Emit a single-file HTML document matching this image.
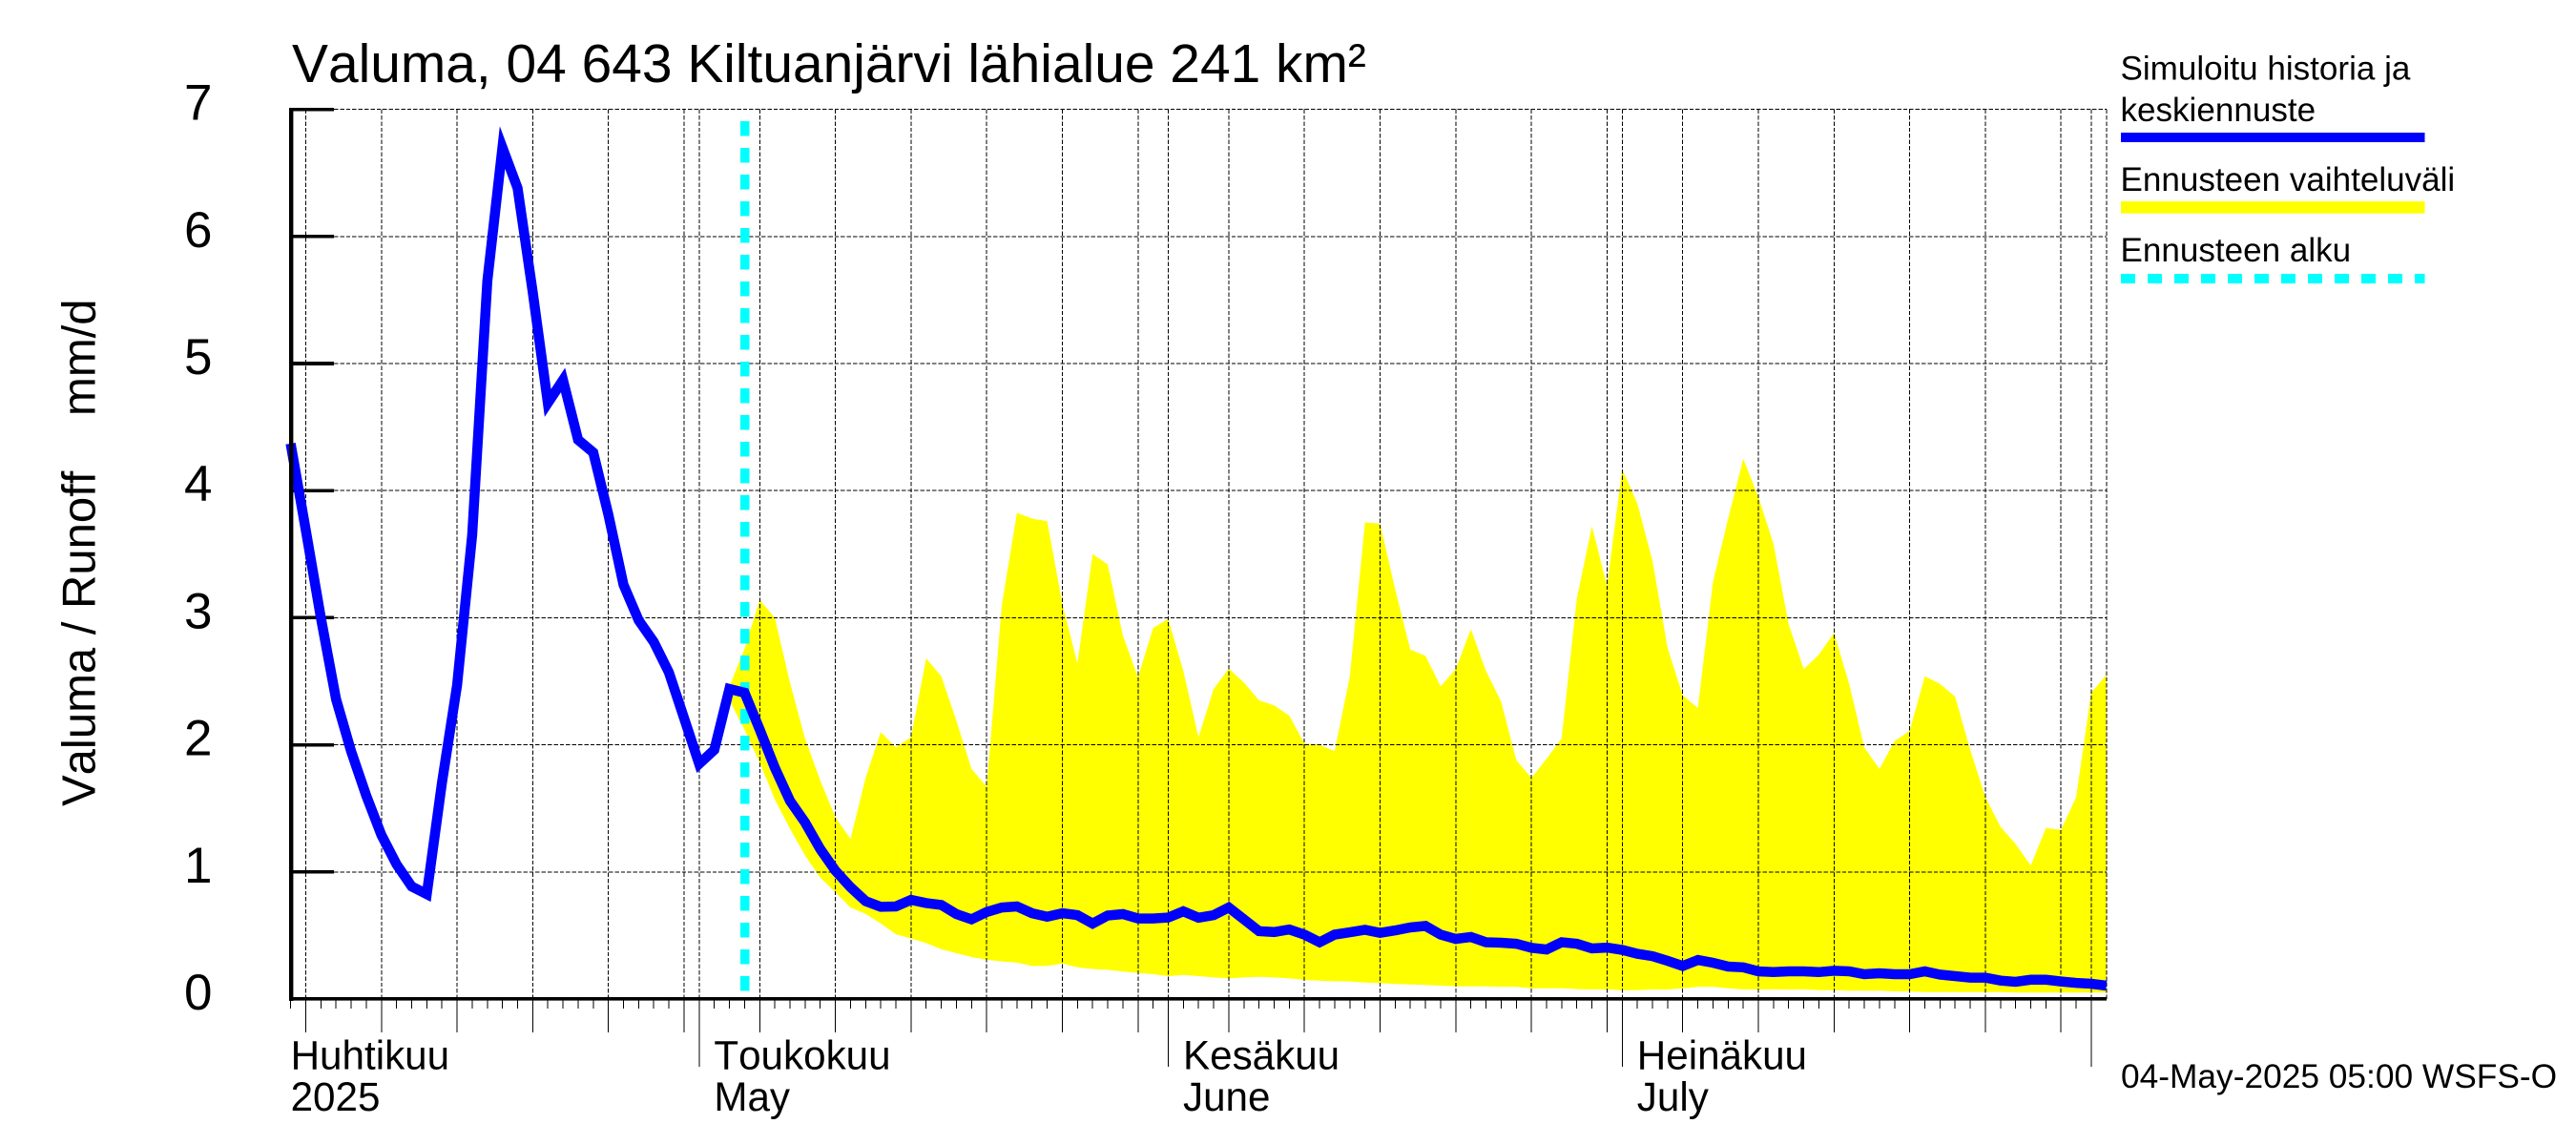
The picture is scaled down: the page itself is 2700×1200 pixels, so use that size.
<!DOCTYPE html>
<html lang="fi">
<head>
<meta charset="utf-8">
<title>Valuma, 04 643 Kiltuanjärvi lähialue</title>
<style>
  html, body { margin: 0; padding: 0; background: #fff; }
  #chart { display: block; width: 2700px; height: 1200px; font-family: "Liberation Sans", Arial, sans-serif; font-kerning: none; }
  text { fill: #000; font-kerning: none; }
</style>
</head>
<body>
<svg id="chart" xmlns="http://www.w3.org/2000/svg" width="2700" height="1200" viewBox="0 0 2700 1200">
  <rect x="0" y="0" width="2700" height="1200" fill="#ffffff"/>
  <polygon id="band" fill="#ffff00"/>
  <g id="grid" stroke="#000" stroke-width="1" stroke-dasharray="4.4 2" shape-rendering="crispEdges"></g>
  <g id="ticks" stroke="#000" shape-rendering="crispEdges"></g>
  <line id="forecastStart" stroke="#00ffff" stroke-width="9.7" stroke-dasharray="15.5 12.5" shape-rendering="crispEdges"/>
  <polyline id="runoffLine" fill="none" stroke="#0000ff" stroke-width="10.5" stroke-linejoin="miter" stroke-miterlimit="6"/>
  <rect x="303" y="113" width="4.4" height="936"/>
  <rect x="303" y="1045" width="1905" height="3.6"/>

  <text x="306" y="86" font-size="56.9">Valuma, 04 643 Kiltuanjärvi lähialue 241 km²</text>
  <text transform="translate(99.5 845) rotate(-90)" font-size="49">Valuma / Runoff</text>
  <text transform="translate(99.5 436) rotate(-90)" font-size="49">mm/d</text>
  <g id="yLabels" font-size="53"></g>
  <g id="xLabels" font-size="42.2"></g>

  <g font-size="35.05">
    <text x="2222.5" y="83.5">Simuloitu historia ja</text>
    <text x="2222.5" y="127">keskiennuste</text>
    <rect x="2223" y="139" width="318.5" height="10" fill="#0000ff"/>
    <text x="2222.5" y="200">Ennusteen vaihteluväli</text>
    <rect x="2223" y="211" width="318.5" height="12.7" fill="#ffff00"/>
    <text x="2222.5" y="274">Ennusteen alku</text>
    <line x1="2223" y1="292" x2="2541.5" y2="292" stroke="#00ffff" stroke-width="9.7" stroke-dasharray="15 13" shape-rendering="crispEdges"/>
  </g>
  <text x="2223" y="1140" font-size="35.3">04-May-2025 05:00 WSFS-O</text>
</svg>

<script>
// Chart data (mm/d, one value per day starting 4 April 2025)
var runoffValues = [
  4.37,3.69,3.00,2.36,1.95,1.60,1.29,1.06,0.885,0.825,1.70,2.47,3.65,5.65,6.70,6.38,5.56,4.69,4.87,4.40,
  4.30,3.81,3.26,2.98,2.81,2.57,2.21,1.85,1.96,2.44,2.41,2.12,1.82,1.56,1.39,1.18,1.01,0.88,0.77,0.725,
  0.728,0.78,0.755,0.74,0.668,0.627,0.685,0.72,0.728,0.675,0.648,0.675,0.66,0.594,0.657,0.668,0.634,0.634,0.641,0.69,
  0.64,0.66,0.72,0.627,0.534,0.527,0.547,0.507,0.447,0.507,0.525,0.544,0.52,0.54,0.563,0.575,0.507,0.473,0.488,0.447,
  0.443,0.435,0.403,0.39,0.447,0.435,0.398,0.405,0.387,0.356,0.337,0.30,0.26,0.307,0.285,0.255,0.249,0.218,0.212,0.218,
  0.218,0.212,0.222,0.218,0.195,0.203,0.195,0.195,0.218,0.192,0.18,0.168,0.168,0.145,0.135,0.152,0.152,0.138,0.127,0.12,0.105
];
var forecastFirstDay = 29;
var forecastUpper = [
  2.46,2.755,3.14,3.00,2.49,2.05,1.72,1.43,1.26,1.74,2.10,1.98,2.06,2.68,2.54,2.19,1.81,1.67,3.10,3.825,
  3.78,3.76,3.11,2.64,3.50,3.42,2.86,2.53,2.92,2.99,2.58,2.06,2.44,2.60,2.49,2.35,2.31,2.23,2.01,2.00,
  1.95,2.54,3.75,3.74,3.22,2.75,2.70,2.46,2.595,2.91,2.58,2.34,1.88,1.74,1.89,2.05,3.15,3.72,3.25,4.17,
  3.90,3.45,2.76,2.39,2.29,3.28,3.78,4.25,3.95,3.58,2.95,2.595,2.71,2.88,2.48,1.98,1.81,2.03,2.11,2.54,
  2.48,2.38,1.96,1.59,1.355,1.22,1.05,1.345,1.33,1.59,2.41,2.55
];
var forecastLower = [
  2.35,2.12,1.86,1.57,1.34,1.13,0.955,0.84,0.72,0.67,0.595,0.51,0.477,0.44,0.393,0.36,0.33,0.31,0.296,0.286,
  0.26,0.26,0.28,0.25,0.236,0.23,0.216,0.206,0.195,0.18,0.19,0.18,0.17,0.162,0.17,0.175,0.17,0.162,0.15,0.145,
  0.14,0.138,0.13,0.125,0.118,0.115,0.11,0.105,0.10,0.10,0.10,0.095,0.095,0.085,0.085,0.085,0.078,0.075,0.075,0.07,
  0.07,0.075,0.075,0.085,0.095,0.095,0.085,0.075,0.075,0.075,0.075,0.075,0.07,0.07,0.065,0.065,0.065,0.06,0.06,0.055,
  0.055,0.055,0.055,0.055,0.055,0.05,0.05,0.05,0.05,0.05,0.05,0.05
];
var yTickValues = [0,1,2,3,4,5,6,7];
var dayCount = 120;
var gridDays = [1,6,11,16,21,26,27,31,36,41,46,51,56,58,62,67,72,77,82,87,88,92,97,102,107,112,117,119,120];
var monthStartDays = [27,58,88,119];
var forecastStartDay = 30;
var monthLabelsFi = ["Huhtikuu","Toukokuu","Kesäkuu","Heinäkuu"];
var monthLabelsEn = ["2025","May","June","July"];
var monthLabelDays = [0,27,58,88];

// Axis functions
function xScale(day) { return 304.6 + 15.86 * day; }
function yScale(value) { return 1047 - 133.2 * value; }

var SVG_NS = "http://www.w3.org/2000/svg";
function make(tag, parent, attrs) {
  var el = document.createElementNS(SVG_NS, tag);
  for (var key in attrs) { el.setAttribute(key, attrs[key]); }
  parent.appendChild(el);
  return el;
}

// Forecast band
var bandPoints = [];
forecastUpper.forEach(function (v, i) {
  bandPoints.push(xScale(forecastFirstDay + i).toFixed(1) + "," + yScale(v).toFixed(1));
});
for (var b = forecastLower.length - 1; b >= 0; b--) {
  bandPoints.push(xScale(forecastFirstDay + b).toFixed(1) + "," + yScale(forecastLower[b]).toFixed(1));
}
document.getElementById("band").setAttribute("points", bandPoints.join(" "));

// Grid
var grid = document.getElementById("grid");
yTickValues.forEach(function (v) {
  if (v === 0) { return; }
  var line = make("line", grid, { x1: 350, x2: xScale(dayCount), y1: yScale(v), y2: yScale(v) });
  
  
});
gridDays.forEach(function (d) {
  var line = make("line", grid, { x1: xScale(d), x2: xScale(d), y1: yScale(7), y2: yScale(0) });
  
  
});

// Ticks
var ticks = document.getElementById("ticks");
yTickValues.forEach(function (v) {
  if (v === 0) { return; }
  var tick = make("line", ticks, { x1: 305, x2: 350, y1: yScale(v), y2: yScale(v), "stroke-width": 3.6 });
  
  
});
for (var d = 0; d < dayCount; d++) {
  var bottom = 1057;
  if (gridDays.indexOf(d) >= 0) { bottom = 1082; }
  if (monthStartDays.indexOf(d) >= 0) { bottom = 1118; }
  var tick = make("line", ticks, { x1: xScale(d), x2: xScale(d), y1: 1047, y2: bottom, "stroke-width": 1 });
  
  
}

// Forecast start marker
var startLine = document.getElementById("forecastStart");
startLine.setAttribute("x1", xScale(forecastStartDay) + 0.4);
startLine.setAttribute("x2", xScale(forecastStartDay) + 0.4);
startLine.setAttribute("y1", 127);
startLine.setAttribute("y2", yScale(0));

// Runoff line
document.getElementById("runoffLine").setAttribute("points", runoffValues.map(function (v, i) {
  return xScale(i).toFixed(1) + "," + yScale(v).toFixed(1);
}).join(" "));

// Y labels
var yLabels = document.getElementById("yLabels");
yTickValues.forEach(function (v) {
  var label = make("text", yLabels, { x: 193, y: yScale(v) + 11 });
  label.textContent = String(v);
  
  
});

// X labels
var xLabels = document.getElementById("xLabels");
monthLabelDays.forEach(function (d, i) {
  var x = xScale(d) + (i === 0 ? 0 : 15.5);
  var fi = make("text", xLabels, { x: x, y: 1120.5 });
  fi.textContent = monthLabelsFi[i];
  
  
  var en = make("text", xLabels, { x: x, y: 1164 });
  en.textContent = monthLabelsEn[i];
  
  
});
</script>
</body>
</html>
